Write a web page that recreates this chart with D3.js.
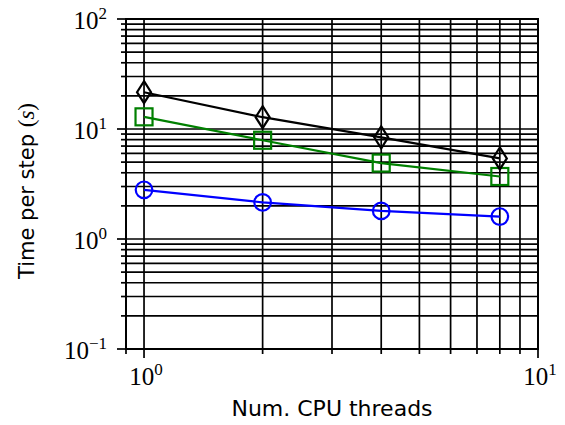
<!DOCTYPE html>
<meta charset="utf-8">
<style>
body { margin: 0; background: #fff; }
</style>
<body>
<script src="https://cdn.jsdelivr.net/npm/d3@7"></script>
<script>
// data
var threads = [1, 2, 4, 8],
    timeBlack = [21.6, 12.8, 8.4, 5.4],
    timeGreen = [12.9, 7.9, 4.9, 3.7],
    timeBlue = [2.8, 2.15, 1.8, 1.6],
    xDecades = [0, 1],
    yDecades = [-1, 0, 1, 2];

var width = 565, height = 425,
    m = {left: 126, right: 27, top: 19, bottom: 76};

var svg = d3.select("body").append("svg")
    .attr("width", width)
    .attr("height", height);

var x = d3.scaleLog().domain([0.9, 10]).range([m.left, width - m.right]),
    y = d3.scaleLog().domain([0.1, 100]).range([height - m.bottom, m.top]);

// minor + major values for grid
var xGrid = [0.9].concat(d3.range(1, 11)),
    yGrid = [];
[0.1, 1, 10].forEach(function(d) {
  for (var k = 1; k < 10; k++) yGrid.push(d * k);
});
yGrid.push(100);

function isMajor(d) {
  var l = Math.log10(d);
  return Math.abs(l - Math.round(l)) < 1e-6;
}

var grid = svg.append("g").attr("stroke", "#000").attr("stroke-width", 1.7);
grid.selectAll(".gx").data(xGrid).enter().append("line")
    .attr("x1", d => x(d)).attr("x2", d => x(d))
    .attr("y1", y(0.1)).attr("y2", y(100));
grid.selectAll(".gy").data(yGrid).enter().append("line")
    .attr("y1", d => y(d)).attr("y2", d => y(d))
    .attr("x1", x(0.9)).attr("x2", x(10));

// ticks
var ticks = svg.append("g").attr("stroke", "#000").attr("stroke-width", 1.7);
ticks.selectAll(".tx").data(xGrid).enter().append("line")
    .attr("x1", d => x(d)).attr("x2", d => x(d))
    .attr("y1", y(0.1))
    .attr("y2", d => y(0.1) + (isMajor(d) ? 9 : 5));
ticks.selectAll(".ty").data(yGrid).enter().append("line")
    .attr("y1", d => y(d)).attr("y2", d => y(d))
    .attr("x1", x(0.9))
    .attr("x2", d => x(0.9) - (isMajor(d) ? 9 : 5));

// frame
svg.append("rect")
    .attr("x", x(0.9)).attr("y", y(100))
    .attr("width", x(10) - x(0.9)).attr("height", y(0.1) - y(100))
    .attr("fill", "none").attr("stroke", "#000").attr("stroke-width", 2);

function powLabel(sel, e) {
  sel.append("tspan").text("10");
  sel.append("tspan").attr("dy", -10).attr("font-size", 17)
      .text(e < 0 ? "\u2212" + (-e) : e);
}

var serif = "'Liberation Serif', 'DejaVu Serif', serif";

svg.selectAll(".xl").data(xDecades).enter().append("text")
    .attr("x", d => x(Math.pow(10, d)) + 2)
    .attr("y", 385)
    .attr("text-anchor", "middle")
    .attr("font-family", serif).attr("font-size", 25)
    .each(function(d) { powLabel(d3.select(this), d); });

svg.selectAll(".yl").data(yDecades).enter().append("text")
    .attr("x", 107)
    .attr("y", d => y(Math.pow(10, d)) + 10)
    .attr("text-anchor", "end")
    .attr("font-family", serif).attr("font-size", 25)
    .each(function(d) { powLabel(d3.select(this), d); });

// axis titles
var sans = "'DejaVu Sans', sans-serif";
svg.append("text")
    .attr("x", 332).attr("y", 416)
    .attr("text-anchor", "middle")
    .attr("font-family", sans).attr("font-size", 22)
    .text("Num. CPU threads");

var yt = svg.append("text")
    .attr("transform", "translate(34," + 191 + ") rotate(-90)")
    .attr("text-anchor", "middle")
    .attr("font-family", sans).attr("font-size", 21);
yt.append("tspan").text("Time per step ");
yt.append("tspan").attr("font-family", serif).attr("font-size", 23).text("(");
yt.append("tspan").attr("font-family", serif).attr("font-size", 23).attr("font-style", "italic").text("s");
yt.append("tspan").attr("font-family", serif).attr("font-size", 23).text(")");

// series
var series = [
  {vals: timeBlue, color: "#0000ff", shape: "circle"},
  {vals: timeGreen, color: "#008000", shape: "square"},
  {vals: timeBlack, color: "#000000", shape: "diamond"}
];

var line = d3.line().x(d => x(d[0])).y(d => y(d[1]));

series.forEach(function(s) {
  var pts = threads.map((t, i) => [t, s.vals[i]]);
  var g = svg.append("g");
  g.append("path")
      .attr("d", line(pts))
      .attr("fill", "none").attr("stroke", s.color).attr("stroke-width", 2.2);
  var mk = g.selectAll(".m").data(pts).enter();
  if (s.shape == "circle") {
    mk.append("circle")
        .attr("cx", d => x(d[0])).attr("cy", d => y(d[1])).attr("r", 8.3)
        .attr("fill", "none").attr("stroke", s.color).attr("stroke-width", 2.2);
  } else if (s.shape == "square") {
    mk.append("rect")
        .attr("x", d => x(d[0]) - 8.5).attr("y", d => y(d[1]) - 8.5)
        .attr("width", 17).attr("height", 17)
        .attr("fill", "none").attr("stroke", s.color).attr("stroke-width", 2.2);
  } else {
    mk.append("path")
        .attr("d", d => {
          var cx = x(d[0]), cy = y(d[1]);
          return "M" + cx + "," + (cy - 11) + "L" + (cx + 7) + "," + cy +
                 "L" + cx + "," + (cy + 11) + "L" + (cx - 7) + "," + cy + "Z";
        })
        .attr("fill", "none").attr("stroke", s.color).attr("stroke-width", 2.2);
  }
});
</script>
